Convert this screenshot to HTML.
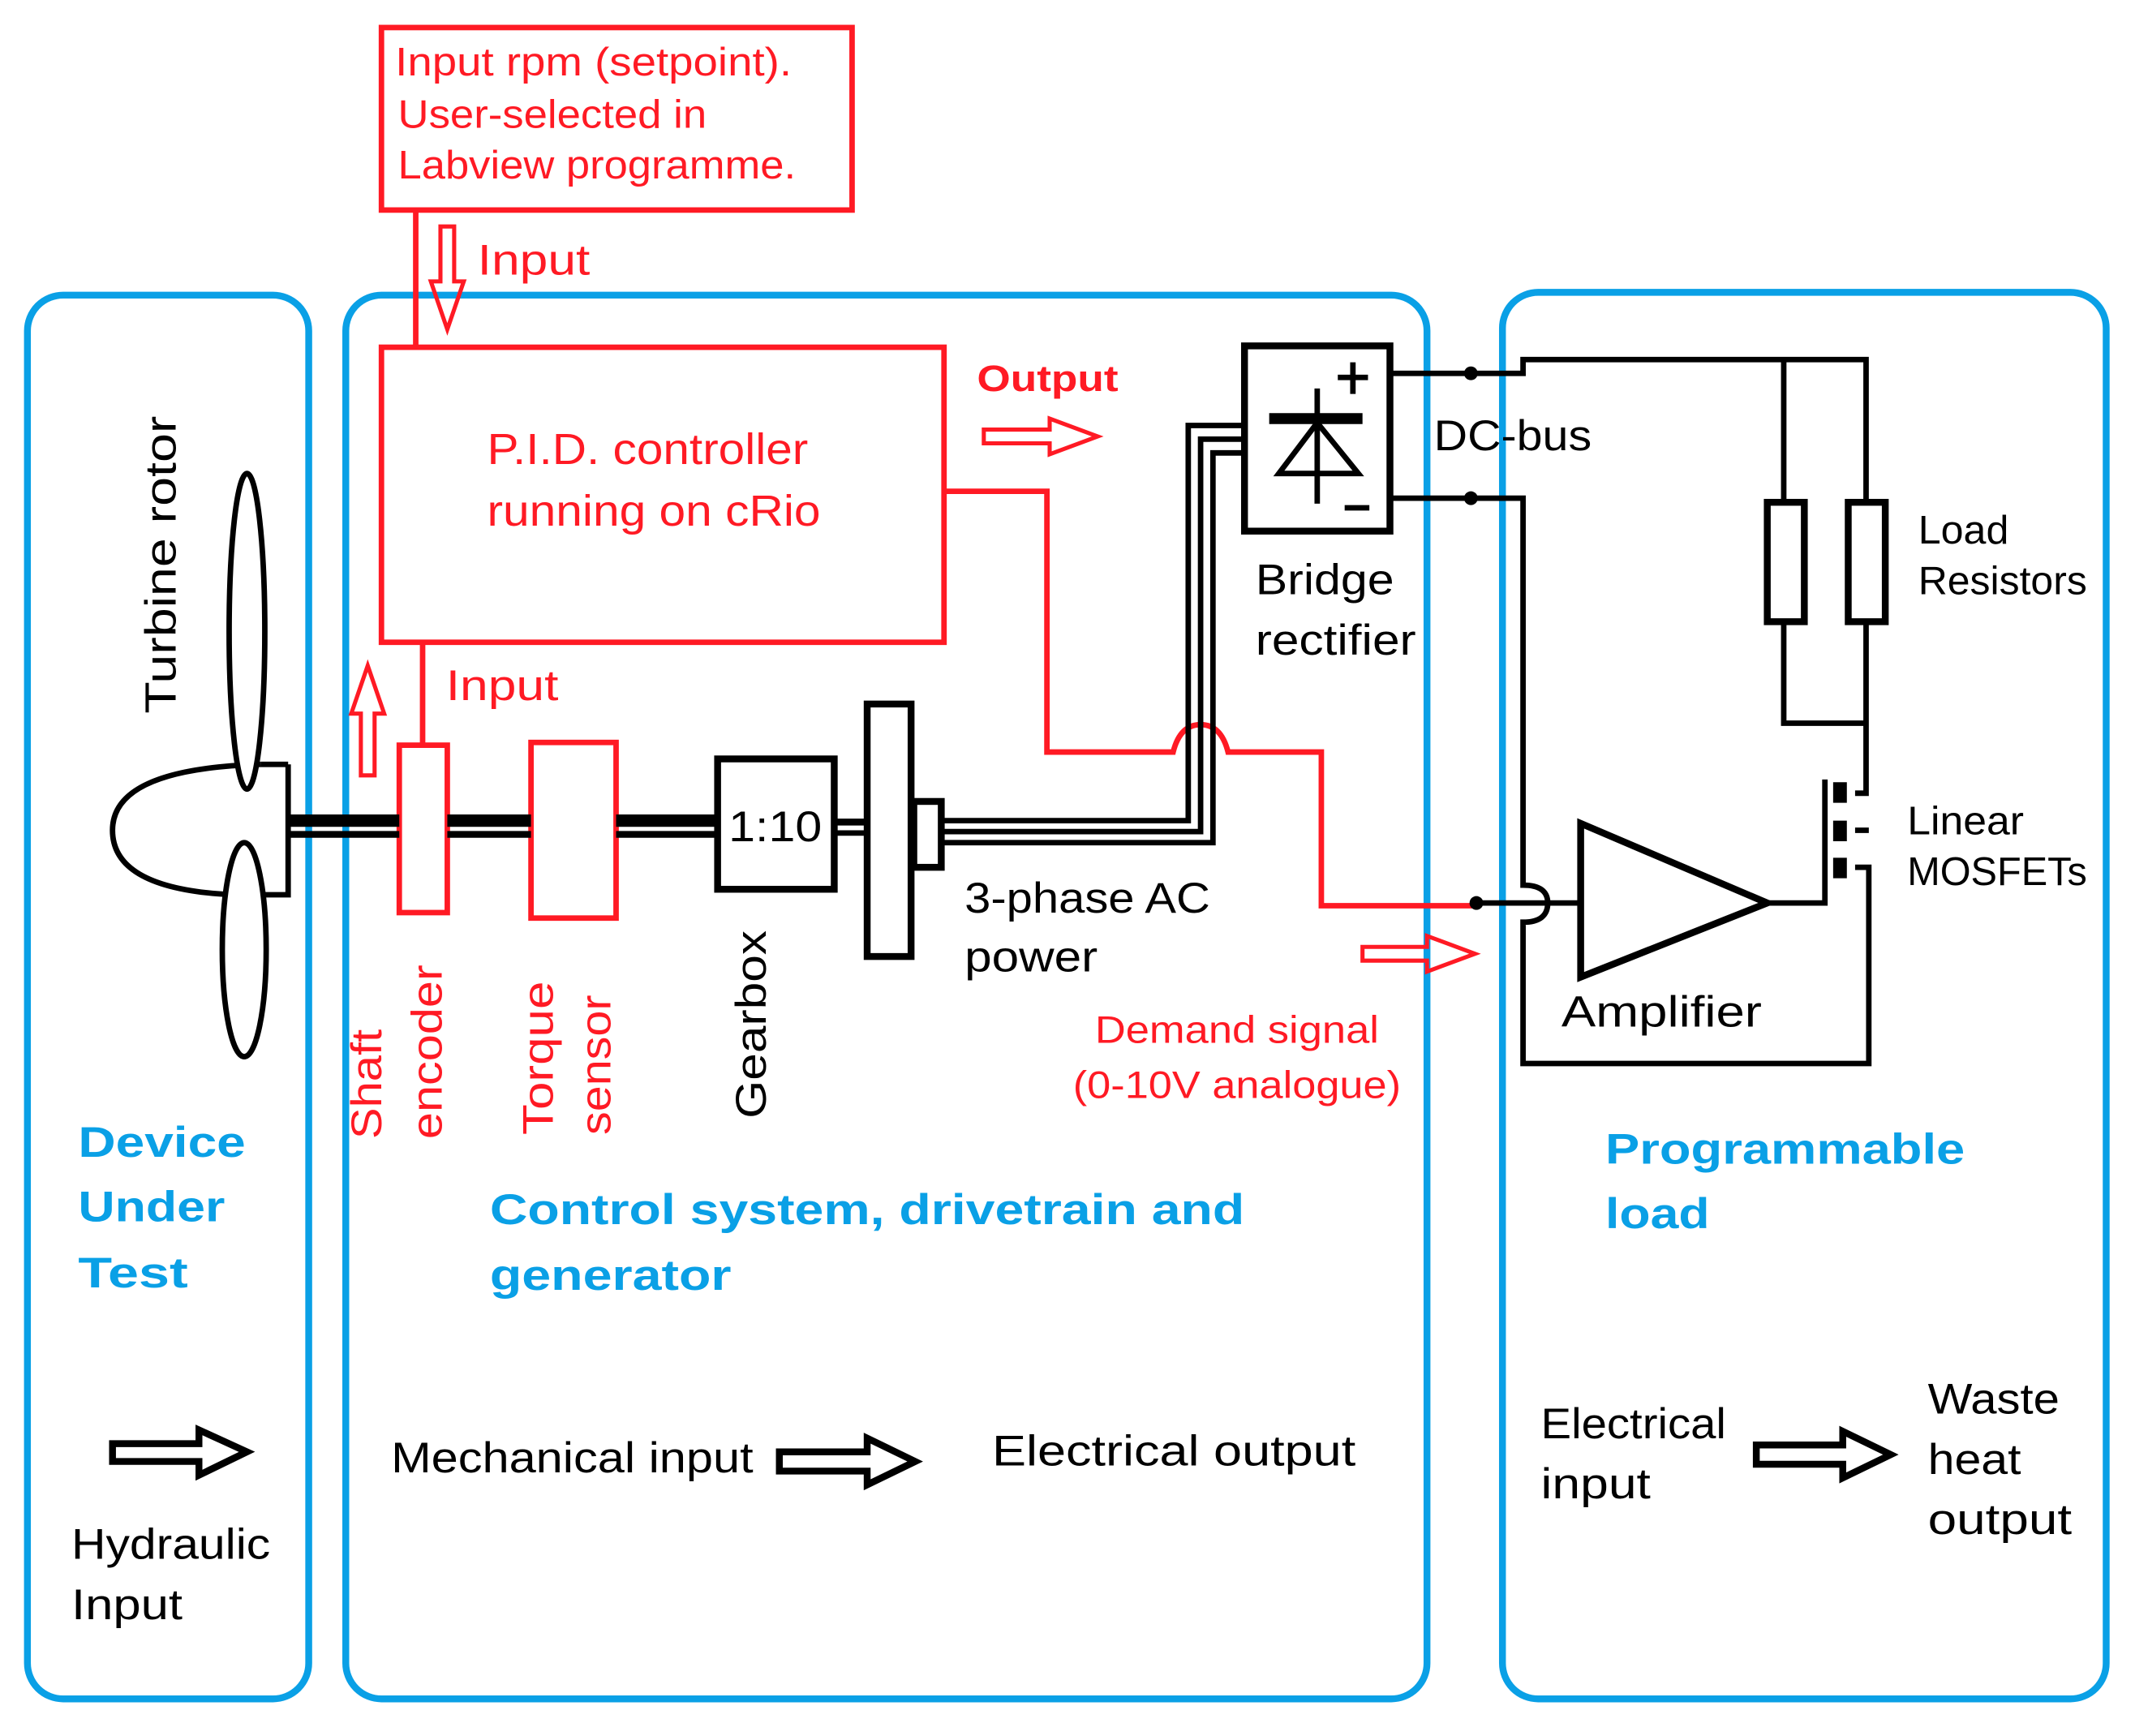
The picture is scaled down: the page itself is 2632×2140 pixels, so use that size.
<!DOCTYPE html>
<html><head><meta charset="utf-8"><style>
html,body{margin:0;padding:0;background:#fff;}
svg{display:block;}
text{font-family:"Liberation Sans",sans-serif;}
</style></head><body>
<svg width="2632" height="2140" viewBox="0 0 1556 1265" xmlns="http://www.w3.org/2000/svg">
<rect width="1556" height="1265" fill="#fff"/>
<g fill="none" stroke="#0aa0e6" stroke-width="5">
<rect x="20" y="215" width="205" height="1023" rx="26"/>
<rect x="252" y="215" width="788" height="1023" rx="26"/>
<rect x="1095" y="213" width="440" height="1025" rx="26"/>
</g>
<g fill="none" stroke="#ff1a24" stroke-width="4">
<rect x="278" y="20" width="343" height="133"/>
<line x1="303" y1="153" x2="303" y2="253"/>
<rect x="278" y="253" width="410" height="215"/>
<line x1="308" y1="468" x2="308" y2="543"/>
<path d="M688,358 H763 V548 H855 Q860,528 875,528 Q890,528 895,548 H963 V660 H1075"/>
<path d="M321,165 H331 V205 H338 L326,240 L314,205 H321 Z" stroke-width="3"/>
<path d="M263,565 H273 V520 H280 L268,485 L256,520 H263 Z" stroke-width="3"/>
<path d="M717,313 H765 V305 L800,318 L765,331 V323 H717 Z" stroke-width="3"/>
<path d="M993,690 H1040 V682 L1075,695 L1040,708 V700 H993 Z" stroke-width="3"/>
<rect x="291" y="543" width="35" height="122"/>
<rect x="387" y="541" width="62" height="128"/>
</g>
<g font-size="29" fill="#ff1a24" lengthAdjust="spacingAndGlyphs">
<text x="288" y="55" textLength="289" lengthAdjust="spacingAndGlyphs">Input rpm (setpoint).</text>
<text x="290" y="93" textLength="225" lengthAdjust="spacingAndGlyphs">User-selected in</text>
<text x="290" y="130" textLength="290" lengthAdjust="spacingAndGlyphs">Labview programme.</text>
<text x="348" y="200" font-size="31" textLength="82" lengthAdjust="spacingAndGlyphs">Input</text>
<text x="325" y="510" font-size="31" textLength="82" lengthAdjust="spacingAndGlyphs">Input</text>
<text x="355" y="338" font-size="32" textLength="234" lengthAdjust="spacingAndGlyphs">P.I.D. controller</text>
<text x="355" y="383" font-size="32" textLength="243" lengthAdjust="spacingAndGlyphs">running on cRio</text>
<text x="712" y="285" font-size="27" font-weight="bold" textLength="103" lengthAdjust="spacingAndGlyphs">Output</text>
<text x="798" y="760" font-size="28" textLength="207" lengthAdjust="spacingAndGlyphs">Demand signal</text>
<text x="782" y="800" font-size="28" textLength="239" lengthAdjust="spacingAndGlyphs">(0-10V analogue)</text>
<text transform="translate(278,830) rotate(-90)" font-size="31" textLength="80" lengthAdjust="spacingAndGlyphs">Shaft</text>
<text transform="translate(322,830) rotate(-90)" font-size="31" textLength="127" lengthAdjust="spacingAndGlyphs">encoder</text>
<text transform="translate(403,827) rotate(-90)" font-size="31" textLength="112" lengthAdjust="spacingAndGlyphs">Torque</text>
<text transform="translate(445,827) rotate(-90)" font-size="31" textLength="102" lengthAdjust="spacingAndGlyphs">sensor</text>
</g>
<g fill="none" stroke="#000">
<line x1="210" y1="598" x2="291" y2="598" stroke-width="9"/>
<line x1="210" y1="608" x2="291" y2="608" stroke-width="5"/>
<line x1="326" y1="598" x2="387" y2="598" stroke-width="9"/>
<line x1="326" y1="608" x2="387" y2="608" stroke-width="5"/>
<line x1="449" y1="598" x2="523" y2="598" stroke-width="9"/>
<line x1="449" y1="608" x2="523" y2="608" stroke-width="5"/>
<line x1="608" y1="599" x2="630" y2="599" stroke-width="5"/>
<line x1="608" y1="607" x2="630" y2="607" stroke-width="4"/>
<rect x="523" y="553" width="85" height="95" stroke-width="5"/>
<rect x="632" y="513" width="32" height="184" stroke-width="5"/>
<rect x="666" y="584" width="20" height="48" stroke-width="5"/>
<path d="M210,557 H190 M210,557 V652 H190" stroke-width="4"/>
<path d="M190,557 Q82,560 82,605 Q82,648 170,652" stroke-width="4"/>
<ellipse cx="180" cy="460" rx="13" ry="115" fill="#fff" stroke-width="4"/>
<ellipse cx="178" cy="692" rx="16" ry="78" fill="#fff" stroke-width="4"/>
<path d="M686,598 H866 V310 H907" stroke-width="4"/>
<path d="M686,606 H875 V320 H907" stroke-width="4"/>
<path d="M686,614 H884 V330 H907" stroke-width="4"/>
<rect x="907" y="252" width="106" height="135" stroke-width="5" fill="#fff"/>
<line x1="925" y1="305" x2="993" y2="305" stroke-width="8"/>
<path d="M960,308 L932,345 H990 Z" stroke-width="4"/>
<line x1="960" y1="283" x2="960" y2="367" stroke-width="4"/>
<path d="M975,275 H997 M986,264 V287" stroke-width="4"/>
<line x1="980" y1="370" x2="998" y2="370" stroke-width="4"/>
<path d="M1013,272 H1110 V262 H1360 V365" stroke-width="4"/>
<line x1="1300" y1="262" x2="1300" y2="365" stroke-width="4"/>
<path d="M1013,363 H1110 V645 Q1128,645 1128,658 Q1128,672 1110,672 V775 H1362 V632 H1352" stroke-width="4"/>
<rect x="1288" y="366" width="27" height="87" stroke-width="5"/>
<rect x="1347" y="366" width="27" height="87" stroke-width="5"/>
<path d="M1300,453 V527 H1360 M1360,453 V578 H1352" stroke-width="4"/>
<line x1="1352" y1="605" x2="1362" y2="605" stroke-width="4"/>
<line x1="1330" y1="568" x2="1330" y2="660" stroke-width="4"/>
<path d="M1341,570 V585 M1341,598 V613 M1341,625 V640" stroke-width="10"/>
<path d="M1075,658 H1152" stroke-width="4"/>
<path d="M1152,600 V712 L1288,658 Z" stroke-width="5" fill="#fff"/>
<line x1="1288" y1="658" x2="1330" y2="658" stroke-width="4"/>
<path d="M82,1052 H145 V1042 L180,1058 L145,1075 V1065 H82 Z" stroke-width="5"/>
<path d="M568,1058 H632 V1048 L667,1065 L632,1082 V1072 H568 Z" stroke-width="5"/>
<path d="M1280,1053 H1343 V1043 L1378,1060 L1343,1077 V1067 H1280 Z" stroke-width="5"/>
</g>
<g fill="#000">
<circle cx="1072" cy="272" r="5"/>
<circle cx="1072" cy="363" r="5"/>
<circle cx="1076" cy="658" r="5"/>
</g>
<g font-size="31" fill="#000">
<text x="531" y="613" textLength="68" lengthAdjust="spacingAndGlyphs">1:10</text>
<text transform="translate(128,520) rotate(-90)" font-size="32" textLength="217" lengthAdjust="spacingAndGlyphs">Turbine rotor</text>
<text transform="translate(558,815) rotate(-90)" font-size="31" textLength="137" lengthAdjust="spacingAndGlyphs">Gearbox</text>
<text x="703" y="665" textLength="179" lengthAdjust="spacingAndGlyphs">3-phase AC</text>
<text x="703" y="708" textLength="97" lengthAdjust="spacingAndGlyphs">power</text>
<text x="1045" y="328" textLength="115" lengthAdjust="spacingAndGlyphs">DC-bus</text>
<text x="915" y="433" textLength="101" lengthAdjust="spacingAndGlyphs">Bridge</text>
<text x="915" y="477" textLength="117" lengthAdjust="spacingAndGlyphs">rectifier</text>
<text x="1398" y="396" font-size="29" textLength="66" lengthAdjust="spacingAndGlyphs">Load</text>
<text x="1398" y="433" font-size="29" textLength="123" lengthAdjust="spacingAndGlyphs">Resistors</text>
<text x="1390" y="608" font-size="29" textLength="85" lengthAdjust="spacingAndGlyphs">Linear</text>
<text x="1390" y="645" font-size="29" textLength="131" lengthAdjust="spacingAndGlyphs">MOSFETs</text>
<text x="1138" y="748" font-size="32" textLength="146" lengthAdjust="spacingAndGlyphs">Amplifier</text>
<text x="52" y="1136" textLength="145" lengthAdjust="spacingAndGlyphs">Hydraulic</text>
<text x="52" y="1180" textLength="81" lengthAdjust="spacingAndGlyphs">Input</text>
<text x="285" y="1073" textLength="264" lengthAdjust="spacingAndGlyphs">Mechanical input</text>
<text x="723" y="1068" textLength="265" lengthAdjust="spacingAndGlyphs">Electrical   output</text>
<text x="1123" y="1048" textLength="135" lengthAdjust="spacingAndGlyphs">Electrical</text>
<text x="1123" y="1092" textLength="80" lengthAdjust="spacingAndGlyphs">input</text>
<text x="1405" y="1030" textLength="96" lengthAdjust="spacingAndGlyphs">Waste</text>
<text x="1405" y="1074" textLength="68" lengthAdjust="spacingAndGlyphs">heat</text>
<text x="1405" y="1118" textLength="105" lengthAdjust="spacingAndGlyphs">output</text>
</g>
<g font-size="31" font-weight="bold" fill="#0aa0e6">
<text x="57" y="843" textLength="122" lengthAdjust="spacingAndGlyphs">Device</text>
<text x="57" y="890" textLength="107" lengthAdjust="spacingAndGlyphs">Under</text>
<text x="57" y="938" textLength="80" lengthAdjust="spacingAndGlyphs">Test</text>
<text x="357" y="892" textLength="550" lengthAdjust="spacingAndGlyphs">Control system, drivetrain and</text>
<text x="357" y="940" textLength="176" lengthAdjust="spacingAndGlyphs">generator</text>
<text x="1170" y="848" textLength="262" lengthAdjust="spacingAndGlyphs">Programmable</text>
<text x="1170" y="895" textLength="76" lengthAdjust="spacingAndGlyphs">load</text>
</g>
</svg>
</body></html>
